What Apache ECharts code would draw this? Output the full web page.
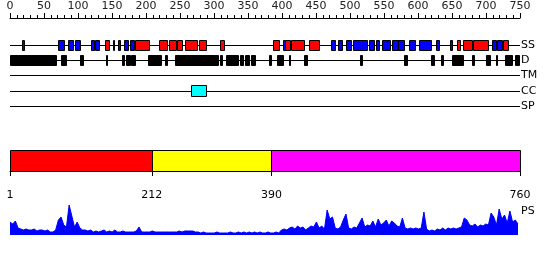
<!DOCTYPE html>
<html>
<head>
<meta charset="utf-8">
<script src="https://cdn.jsdelivr.net/npm/echarts@6/dist/echarts.min.js"></script>
<style>html,body{margin:0;padding:0;background:#fff}#c{width:550px;height:260px}</style>
</head>
<body>
<div id="c"></div>
<script>
// ---- data ----
const tracks = ['SS', 'D', 'TM', 'CC', 'SP'];
const rulerTicks = [0, 50, 100, 150, 200, 250, 300, 350, 400, 450, 500, 550, 600, 650, 700, 750];
const ssHelix = [[143,149],[187,208],[223,235],[238,248],[250,257],[262,280],[283,292],[314,320],
  [393,402],[411,417],[419,439],[446,461],[666,671],[675,688],[690,712],[735,742]];
const ssStrand = [[19,22],[73,82],[88,95],[98,105],[121,126],[128,134],[154,156],[161,165],[171,176],[180,186],
  [408,411],[478,485],[489,495],[501,509],[512,533],[536,542],[546,550],[555,562],[562,567],[570,578],[579,587],
  [595,604],[610,627],[635,640],[656,659],[719,725],[726,733]];
const disorder = [[1,70],[77,85],[105,109],[144,146],[167,171],[174,180],[181,187],[207,226],[232,235],[246,311],
  [313,317],[322,341],[343,348],[351,357],[359,365],[387,390],[398,408],[416,418],[438,443],[522,525],[587,592],
  [627,632],[642,645],[659,675],[689,691],[710,716],[724,726],[738,748],[752,759]];
const coiledCoil = [[271,293]];
const domains = [[1,212],[212,390],[390,760]];
const domainTicks = [1, 212, 390, 760];
const psStart = 1, psStep = 4;
const psValues = [
  13,11,14,7,6,5,6,5,5,6,
  4,5,5,4,5,3,3,5,15,18,
  10,8,30,19,8,13,7,5,5,4,
  5,3,4,3,4,5,3,4,3,5,
  3,3,4,3,3,3,3,4,8,3,
  3,3,3,4,3,3,3,3,3,3,
  3,3,3,4,3,4,4,4,4,3,
  3,2,3,2,2,2,2,3,2,2,
  2,2,3,2,2,3,2,3,2,3,
  2,3,2,3,2,2,3,2,2,3,
  2,5,6,5,7,8,6,9,7,8,
  5,7,9,8,13,7,9,6,25,16,
  18,7,6,8,15,21,7,6,8,7,
  12,17,8,10,9,14,8,16,10,12,
  15,9,14,12,9,8,17,7,6,7,
  6,7,6,7,23,6,4,5,4,6,
  5,7,5,7,6,7,6,7,8,17,
  15,10,9,11,8,10,9,11,10,22,
  18,10,26,16,20,12,24,13,15,11
];

// ---- rendering ----
const FONT = 'DejaVu Sans';
const domainPalette = ['#ff0000', '#ffff00', '#ff00ff'];

function boxRenderer(h, fill) {
  return function (params, api) {
    const a = api.coord([api.value(0), api.value(2)]);
    const b = api.coord([api.value(1), api.value(2)]);
    const x0 = Math.round(a[0]) + 0.5;
    const x1 = Math.max(Math.round(b[0]) + 0.5, x0 + 1);
    const y0 = Math.round(a[1] - h / 2) + 0.5;
    return {
      type: 'rect',
      shape: { x: x0, y: y0, width: x1 - x0, height: h },
      style: { fill: fill, stroke: '#000', lineWidth: 1 }
    };
  };
}
function trackData(list, name) { return list.map(d => [d[0], d[1], name]); }

const chart = echarts.init(document.getElementById('c'), null, { renderer: 'canvas' });
chart.setOption({
  animation: false,
  backgroundColor: '#fff',
  textStyle: { fontFamily: FONT },
  title: { text: 'PS', left: 521, top: 206, padding: 0,
    textStyle: { fontSize: 11, fontWeight: 'normal', fontFamily: FONT, color: '#000' } },
  grid: [
    { left: 10, width: 510, top: 17, height: 1 },
    { left: 10, width: 510, top: 45, height: 61 },
    { left: 10, width: 510, top: 150, height: 21 },
    { left: 10, width: 510, top: 205, height: 30 }
  ],
  xAxis: [
    { gridIndex: 0, type: 'value', min: 0, max: 750, interval: 50, position: 'top',
      axisLine: { lineStyle: { color: '#000', width: 1 } },
      axisTick: { length: 5, lineStyle: { color: '#000' } },
      minorTick: { show: true, splitNumber: 5, length: 3, lineStyle: { color: '#000' } },
      axisLabel: { fontSize: 11, color: '#222', margin: 5, fontFamily: FONT,
        customValues: rulerTicks },
      splitLine: { show: false } },
    { gridIndex: 1, type: 'value', min: 1, max: 760, show: false },
    { gridIndex: 2, type: 'value', min: 1, max: 760, position: 'bottom', offset: 10,
      axisLine: { lineStyle: { color: '#000', width: 1 } },
      axisTick: { length: 5, lineStyle: { color: '#000' }, customValues: domainTicks },
      axisLabel: { fontSize: 11, color: '#000', margin: 9, fontFamily: FONT, customValues: domainTicks },
      splitLine: { show: false } },
    { gridIndex: 3, type: 'value', min: 1, max: 760, show: false }
  ],
  yAxis: [
    { gridIndex: 0, type: 'value', show: false },
    { gridIndex: 1, type: 'category', data: tracks, inverse: true, boundaryGap: false, position: 'right',
      axisLine: { show: false }, axisTick: { show: false },
      axisLabel: { margin: 1, fontSize: 11, color: '#000', fontFamily: FONT },
      splitLine: { show: true, lineStyle: { color: '#000', width: 1 } } },
    { gridIndex: 2, type: 'value', min: 0, max: 1, show: false },
    { gridIndex: 3, type: 'value', min: 0, max: 30, show: false }
  ],
  series: [
    { type: 'custom', name: 'D', xAxisIndex: 1, yAxisIndex: 1, clip: false,
      encode: { x: [0, 1], y: 2 }, renderItem: boxRenderer(10, '#000'), data: trackData(disorder, 'D') },
    { type: 'custom', name: 'helix', xAxisIndex: 1, yAxisIndex: 1, clip: false,
      encode: { x: [0, 1], y: 2 }, renderItem: boxRenderer(10, '#ff0000'), data: trackData(ssHelix, 'SS') },
    { type: 'custom', name: 'strand', xAxisIndex: 1, yAxisIndex: 1, clip: false,
      encode: { x: [0, 1], y: 2 }, renderItem: boxRenderer(10, '#0000ff'), data: trackData(ssStrand, 'SS') },
    { type: 'custom', name: 'CC', xAxisIndex: 1, yAxisIndex: 1, clip: false,
      encode: { x: [0, 1], y: 2 }, renderItem: boxRenderer(11, '#00ffff'), data: trackData(coiledCoil, 'CC') },
    { type: 'custom', name: 'domains', xAxisIndex: 2, yAxisIndex: 2, clip: false,
      encode: { x: [0, 1] },
      renderItem: function (params, api) {
        const a = api.coord([api.value(0), 1]);
        const b = api.coord([api.value(1), 0]);
        const x0 = Math.round(a[0]) + 0.5, x1 = Math.round(b[0]) + 0.5;
        const y0 = Math.round(a[1]) + 0.5, y1 = Math.round(b[1]) + 0.5;
        return { type: 'rect', shape: { x: x0, y: y0, width: x1 - x0, height: y1 - y0 },
          style: { fill: domainPalette[params.dataIndex % domainPalette.length], stroke: '#000', lineWidth: 1 } };
      },
      data: domains },
    { type: 'line', name: 'PS', xAxisIndex: 3, yAxisIndex: 3, symbol: 'none', silent: true,
      lineStyle: { color: '#0000ff', width: 1 }, areaStyle: { color: '#0000ff', opacity: 1 },
      data: psValues.map((v, i) => [psStart + i * psStep, v]) }
  ]
});
</script>
</body>
</html>
